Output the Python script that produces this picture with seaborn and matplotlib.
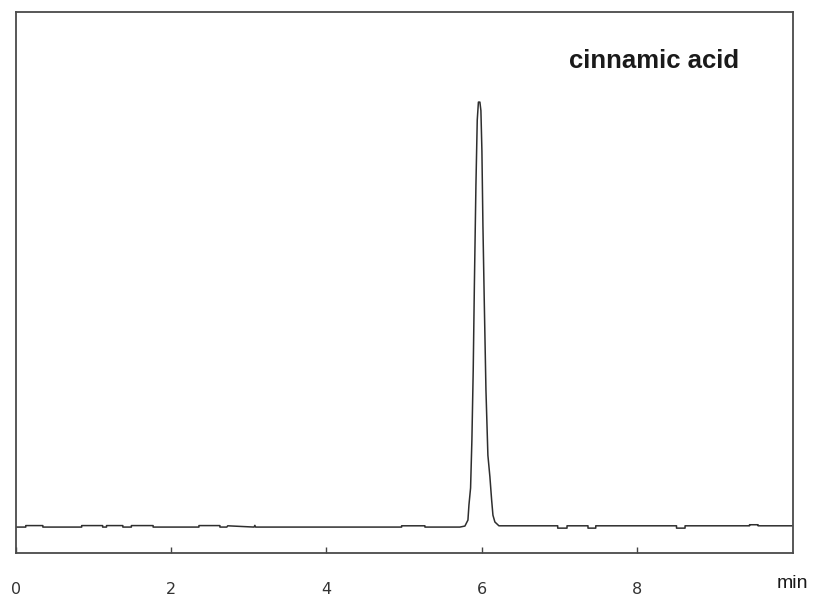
import matplotlib
matplotlib.use("Agg")
import matplotlib.pyplot as plt
import seaborn as sns
import pandas as pd

# Retention time (min) and detector signal (arbitrary units, baseline = 0, peak = 100)
time_min = [
    0.00, 0.13, 0.13, 0.35, 0.35, 0.85, 0.85, 1.12, 1.12, 1.17, 1.17, 1.38,
    1.38, 1.49, 1.49, 1.77, 1.77, 2.36, 2.36, 2.63, 2.63, 2.72, 2.73, 3.07,
    3.08, 3.09, 4.97, 4.97, 5.27, 5.27, 5.72, 5.785, 5.824, 5.837, 5.858,
    5.875, 5.892, 5.907, 5.927, 5.944, 5.959, 5.978, 5.991, 6.004, 6.017,
    6.034, 6.056, 6.081, 6.107, 6.129, 6.146, 6.171, 6.223, 6.30, 6.98,
    6.98, 7.10, 7.10, 7.37, 7.37, 7.47, 7.47, 8.51, 8.51, 8.62, 8.62,
    9.45, 9.45, 9.56, 9.56, 10.0,
]
signal = [
    0.0, 0.0, 0.35, 0.35, 0.0, 0.0, 0.35, 0.35, 0.0, 0.0, 0.35, 0.35,
    0.0, 0.0, 0.35, 0.35, 0.0, 0.0, 0.35, 0.35, 0.0, 0.0, 0.3, 0.0,
    0.4, 0.0, 0.0, 0.3, 0.3, 0.0, 0.0, 0.24, 1.65, 5.2, 9.2,
    20.5, 36.9, 57.0, 80.5, 95.8, 100.0, 100.0, 98.0, 88.5, 71.0,
    53.4, 32.2, 16.9, 11.8, 6.4, 2.8, 1.2, 0.3, 0.3, 0.3,
    -0.25, -0.25, 0.3, 0.3, -0.25, -0.25, 0.3, 0.3, -0.25, -0.25, 0.3,
    0.3, 0.55, 0.55, 0.3, 0.3,
]
x_ticks = [0, 2, 4, 6, 8]
x_tick_labels = ["0", "2", "4", "6", "8"]
compound = "cinnamic acid"
x_unit = "min"

df = pd.DataFrame({"t": time_min, "s": signal})

sns.set_style("white")
plt.rcParams["font.family"] = ["DejaVu Sans"]

fig = plt.figure(figsize=(8.14, 5.96), dpi=100)
ax = fig.add_axes([15.67 / 814, 1 - 553 / 596, (793 - 15.67) / 814, (553 - 12) / 596])

sns.lineplot(data=df, x="t", y="s", ax=ax, estimator=None, sort=False,
             color="#2e2e2e", linewidth=1.1)

ax.set_xlim(0, 10.01)
ax.set_ylim(-6.1, 121.2)
ax.set_xlabel("")
ax.set_ylabel("")
ax.set_yticks([])
ax.set_xticks(x_ticks)
ax.set_xticklabels(x_tick_labels, fontsize=11.5, color="#333333")
ax.tick_params(axis="x", bottom=True, direction="in", length=4, width=1.0,
               color="#444444", pad=21)
for side in ["top", "bottom", "left", "right"]:
    ax.spines[side].set_visible(True)
    ax.spines[side].set_color("#4a4a4a")
    ax.spines[side].set_linewidth(1.3)

ax.text(0.821, 0.909, compound, transform=ax.transAxes, ha="center",
        va="center", fontsize=18.5, fontweight="bold", color="#1a1a1a",
        family=["Liberation Sans", "DejaVu Sans"])
fig.text(792 / 814, 1 - 583 / 596, x_unit, ha="center", va="center",
         fontsize=14, color="#1a1a1a", family=["Liberation Sans", "DejaVu Sans"])

fig.savefig("out.png", dpi=100, facecolor="white")
